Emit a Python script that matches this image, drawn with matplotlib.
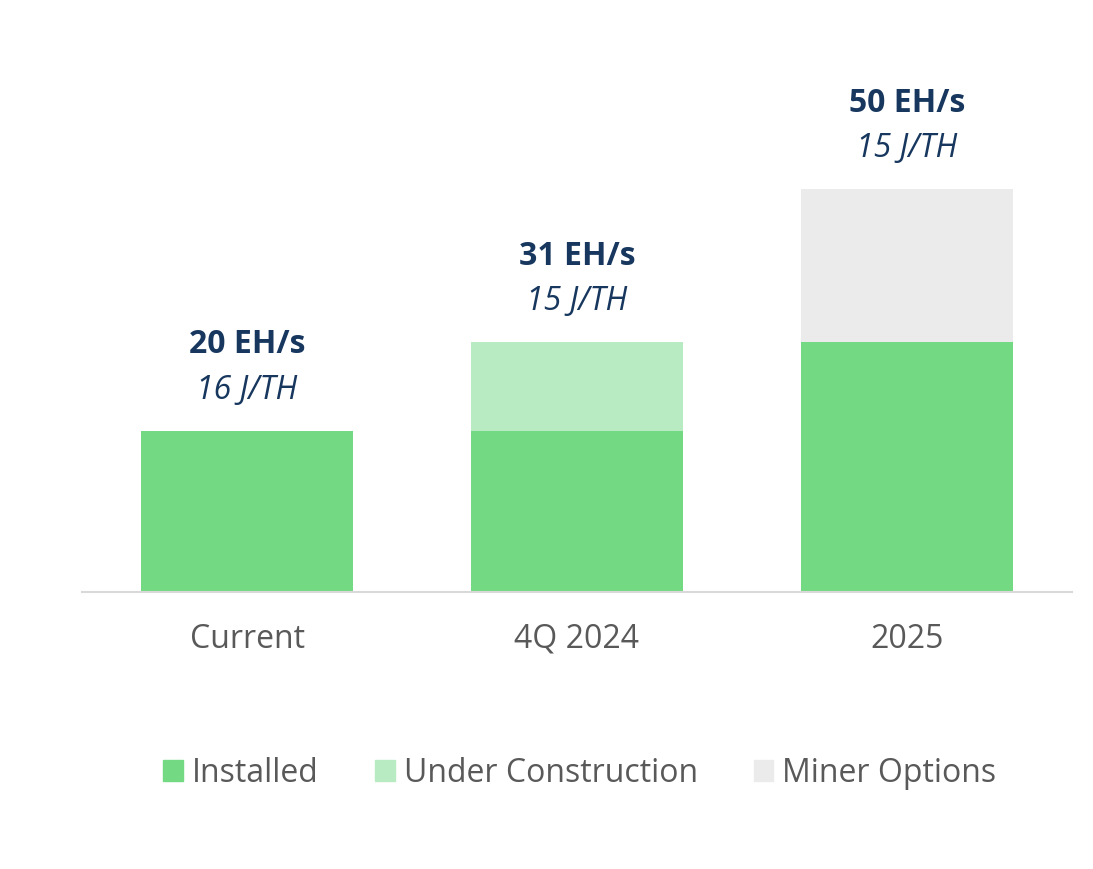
import matplotlib
matplotlib.use("Agg")
import matplotlib.pyplot as plt
from matplotlib.patches import Patch

categories = ["Current", "4Q 2024", "2025"]
installed = [20, 20, 31]
under_construction = [0, 11, 0]
miner_options = [0, 0, 19]
hash_labels = ["20 EH/s", "31 EH/s", "50 EH/s"]
eff_labels = ["16 J/TH", "15 J/TH", "15 J/TH"]

C_INST = "#73D982"
C_UC = "#B9EBC2"
C_MO = "#EBEBEB"
NAVY = "#17375E"
GRAY = "#595959"

plt.rcParams["font.family"] = ["Open Sans", "DejaVu Sans"]

fig = plt.figure(figsize=(10.93, 8.69), dpi=100)
W, H = 1093, 869
left, right, bottom_px, top_px = 82, 1072, 592, 40
ax = fig.add_axes([left / W, (H - bottom_px) / H, (right - left) / W, (bottom_px - top_px) / H])

x = list(range(len(categories)))
bw = 0.643
ax.bar(x, installed, width=bw, color=C_INST, label="Installed")
ax.bar(x, under_construction, width=bw, bottom=installed, color=C_UC, label="Under Construction")
base2 = [a + b for a, b in zip(installed, under_construction)]
ax.bar(x, miner_options, width=bw, bottom=base2, color=C_MO, label="Miner Options")

px_per_unit = 161 / 20
ax.set_ylim(0, (bottom_px - top_px) / px_per_unit)
ax.set_xlim(-0.5, 2.5)

FS = 23
totals = [a + b for a, b in zip(base2, miner_options)]
for xi, t, h, e in zip(x, totals, hash_labels, eff_labels):
    ax.annotate(h, (xi, t), xytext=(0, 62), textcoords="offset points",
                ha="center", va="center", fontsize=FS, fontweight="bold", color=NAVY)
    ax.annotate(e, (xi, t), xytext=(0, 29.5), textcoords="offset points",
                ha="center", va="center", fontsize=FS, fontstyle="italic", color=NAVY)

for s in ["top", "right", "left"]:
    ax.spines[s].set_visible(False)
ax.spines["bottom"].set_color("#D9D9D9")
ax.spines["bottom"].set_linewidth(1.5)
ax.set_yticks([])
ax.set_xticks(x)
ax.set_xticklabels(categories, fontsize=FS, color=GRAY)
ax.tick_params(axis="x", length=0, pad=22)

handles = [Patch(color=C_INST), Patch(color=C_UC), Patch(color=C_MO)]
fig.legend(handles, ["Installed", "Under Construction", "Miner Options"],
           loc="center", bbox_to_anchor=(580 / W, 1 - 773 / H), ncol=3, frameon=False,
           fontsize=FS, labelcolor=GRAY, handlelength=0.62, handleheight=0.62,
           handletextpad=0.28, columnspacing=1.75)

fig.savefig("out.png", dpi=100)
